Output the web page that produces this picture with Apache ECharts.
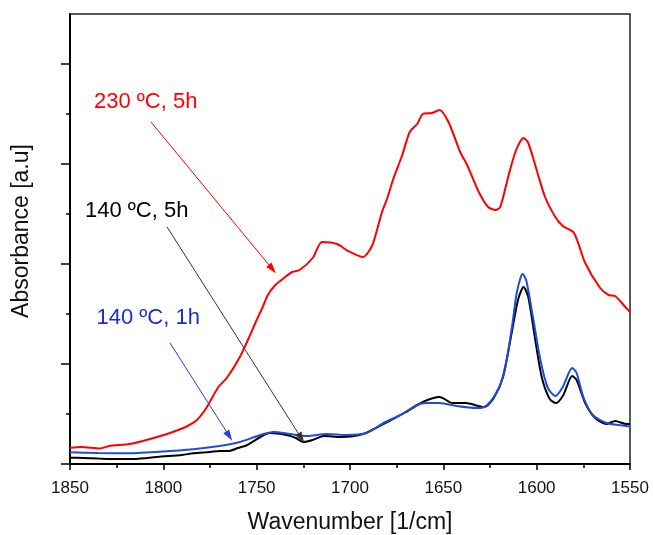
<!DOCTYPE html>
<html>
<head>
<meta charset="utf-8">
<script src="https://cdn.jsdelivr.net/npm/echarts@6/dist/echarts.min.js"></script>
<style>
html,body{margin:0;padding:0;background:#fff;}
#chart{width:653px;height:535px;}
</style>
</head>
<body>
<div id="chart"></div>
<script>
// ---- data (wavenumber in 1/cm, absorbance in arbitrary units) ----
var redWn  = [1850,1844,1834,1829,1818,1809,1798,1792,1787,1782,1777,1770.5,1766,1759,1754,1750,1747,1744,1740,1736,1731,1727,1720,1715,1707,1701,1693,1688,1683,1680,1677,1672,1668,1664,1661,1656,1652,1647,1641,1637.5,1631,1626,1622,1619.5,1615,1611,1607,1604.5,1600,1595.5,1590,1586,1580,1574,1566,1561.5,1558,1552,1550];
var redAbs = [0.16,0.17,0.155,0.18,0.20,0.24,0.30,0.34,0.38,0.44,0.56,0.77,0.86,1.07,1.27,1.44,1.56,1.69,1.79,1.85,1.92,1.94,2.06,2.22,2.20,2.13,2.07,2.19,2.51,2.66,2.84,3.09,3.32,3.40,3.50,3.51,3.54,3.41,3.12,3.00,2.72,2.57,2.54,2.57,2.89,3.14,3.26,3.21,2.94,2.67,2.47,2.38,2.31,2.01,1.76,1.69,1.68,1.56,1.52];

var blueWn  = [1850,1835,1820,1802,1784,1770,1759,1748,1741,1732,1723,1712.5,1702,1691,1682,1673,1664,1659,1652,1643,1632,1630,1626,1622,1619,1616,1613,1610.7,1608.5,1607.5,1605.5,1602,1598,1594,1590,1586,1581,1578.6,1575,1570,1562.5,1552,1550];
var blueAbs = [0.117,0.11,0.107,0.123,0.147,0.18,0.22,0.29,0.32,0.30,0.28,0.30,0.29,0.31,0.41,0.49,0.59,0.61,0.61,0.58,0.56,0.56,0.60,0.70,0.82,1.05,1.40,1.71,1.87,1.90,1.83,1.47,1.04,0.76,0.68,0.77,0.96,0.91,0.67,0.49,0.41,0.38,0.375];

var blackWn  = [1850,1843,1835,1825,1816,1802,1790,1784,1775,1770,1765,1760,1755,1748,1743,1734,1729,1725,1720,1714,1705,1693,1680,1670,1661,1652,1645,1638,1631,1628,1623,1618,1613.4,1610,1607,1604.5,1601,1597.3,1593,1589.6,1585.7,1581,1578.6,1574,1568.7,1562.5,1558,1552,1550];
var blackAbs = [0.063,0.06,0.055,0.05,0.05,0.073,0.09,0.107,0.12,0.13,0.13,0.16,0.19,0.27,0.31,0.29,0.26,0.22,0.24,0.28,0.27,0.30,0.42,0.52,0.62,0.67,0.61,0.61,0.58,0.57,0.66,0.87,1.31,1.64,1.77,1.67,1.27,0.87,0.65,0.61,0.69,0.88,0.84,0.61,0.46,0.40,0.43,0.40,0.40];

var xTicks = [1850,1800,1750,1700,1650,1600,1550];
var yMajor = [0,1,2,3,4];
var yMinor = [0.5,1.5,2.5,3.5];

var labels = ['230 \u00baC, 5h','140 \u00baC, 5h','140 \u00baC, 1h'];
// arrows: [start, end] in data coordinates
var redArrow   = [[1806.6,3.42],[1741.6,1.95]];
var blackArrow = [[1798,2.37],[1726.1,0.26]];
var blueArrow  = [[1796.4,1.21],[1764.7,0.28]];

function zip(a,b){var r=[];for(var i=0;i<a.length;i++)r.push([a[i],b[i]]);return r;}

var FONT = '"Liberation Sans", Arial, Helvetica, sans-serif';
var RED = '#ff0000', BLUE = '#1f4ddb', BLACK = '#000000';

function arrowLine(a, color){
  return {
    silent:true, animation:false,
    symbol:['none','triangle'], symbolSize:[7,11],
    label:{show:false},
    lineStyle:{color:color,width:1,type:'solid'},
    emphasis:{disabled:true},
    data:[[{coord:a[0]},{coord:a[1]}]]
  };
}

var chart = echarts.init(document.getElementById('chart'), null, {renderer:'canvas'});
chart.setOption({
  animation:false,
  backgroundColor:'#ffffff',
  grid:{left:70,right:23,top:14,bottom:71,show:true,borderColor:'#222',borderWidth:1.5,
    containLabel:false, outerBoundsMode:'none'},
  xAxis:{
    type:'value', min:1550, max:1850, interval:50, inverse:true,
    axisLine:{show:true,lineStyle:{color:'#000',width:2}},
    axisTick:{show:true,length:6,lineStyle:{color:'#000',width:1.5}},
    minorTick:{show:true,splitNumber:2,length:4,lineStyle:{color:'#000',width:1.5}},
    splitLine:{show:false},
    axisLabel:{show:true,color:'#111',fontSize:17,fontFamily:FONT,margin:16,
      customValues:xTicks, formatter:function(v){return String(v);}},
    name:'Wavenumber [1/cm]', nameLocation:'middle', nameGap:47,
    nameTextStyle:{color:'#111',fontSize:23,fontFamily:FONT}
  },
  yAxis:[{
    type:'value', min:0, max:4.5, interval:1,
    axisLine:{show:true,lineStyle:{color:'#000',width:2}},
    axisTick:{show:true,length:9,lineStyle:{color:'#000',width:1.5},customValues:yMajor},
    axisLabel:{show:false},
    splitLine:{show:false}
  },{
    type:'value', min:0, max:4.5, interval:0.5, position:'left',
    axisLine:{show:false},
    axisTick:{show:true,length:4,lineStyle:{color:'#000',width:1.5},customValues:yMinor},
    axisLabel:{show:false},
    splitLine:{show:false}
  }],
  graphic:[
    {type:'text',x:22,y:231,rotation:Math.PI/2,silent:true,
      style:{text:'Absorbance [a.u]',fill:'#111',font:'23px '+FONT,textAlign:'center',textVerticalAlign:'middle'}},
    {type:'text',x:94,y:101.5,silent:true,
      style:{text:labels[0],fill:RED,font:'22px '+FONT,textAlign:'left',textVerticalAlign:'middle'}},
    {type:'text',x:85,y:211,silent:true,
      style:{text:labels[1],fill:'#000',font:'22px '+FONT,textAlign:'left',textVerticalAlign:'middle'}},
    {type:'text',x:96.5,y:317.5,silent:true,
      style:{text:labels[2],fill:'#1a2fd0',font:'22px '+FONT,textAlign:'left',textVerticalAlign:'middle'}}
  ],
  series:[
    {type:'line',name:'140 C 5h',data:zip(blackWn,blackAbs),showSymbol:false,smooth:0.25,
      lineStyle:{color:BLACK,width:2},itemStyle:{color:BLACK},
      markLine:arrowLine(blackArrow,'#333333')},
    {type:'line',name:'140 C 1h',data:zip(blueWn,blueAbs),showSymbol:false,smooth:0.25,
      lineStyle:{color:BLUE,width:2},itemStyle:{color:BLUE},
      markLine:arrowLine(blueArrow,'#2a3fe0')},
    {type:'line',name:'230 C 5h',data:zip(redWn,redAbs),showSymbol:false,smooth:0.25,
      lineStyle:{color:RED,width:2},itemStyle:{color:RED},
      markLine:arrowLine(redArrow,RED)}
  ]
});
</script>
</body>
</html>
